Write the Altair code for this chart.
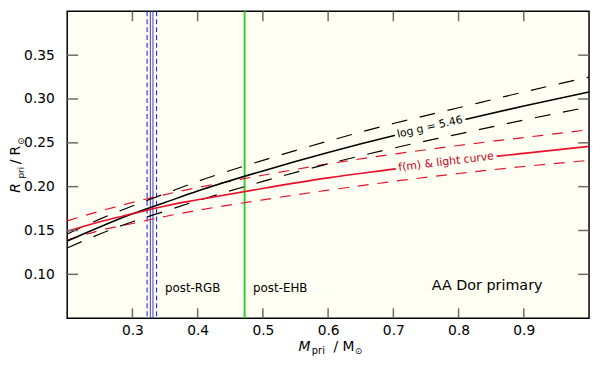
import altair as alt
import pandas as pd

# ---------------- data ----------------
mass = [0.20, 0.25, 0.30, 0.35, 0.40, 0.50, 0.60, 0.70, 0.80, 0.90, 1.00]

logg_mid = [0.138, 0.154, 0.169, 0.182, 0.195, 0.218, 0.239, 0.258, 0.275, 0.292, 0.308]
logg_hi = [0.146, 0.163, 0.178, 0.192, 0.206, 0.230, 0.252, 0.272, 0.290, 0.308, 0.325]
logg_lo = [0.130, 0.146, 0.160, 0.172, 0.184, 0.206, 0.226, 0.244, 0.260, 0.276, 0.291]

fm_mid = [0.149, 0.160, 0.169, 0.178, 0.185, 0.198, 0.210, 0.220, 0.230, 0.238, 0.246]
fm_hi = [0.161, 0.172, 0.182, 0.191, 0.199, 0.213, 0.226, 0.237, 0.247, 0.256, 0.265]
fm_lo = [0.139, 0.150, 0.158, 0.166, 0.173, 0.185, 0.196, 0.206, 0.215, 0.223, 0.230]

rgb_solid = [0.3275, 0.3315]
rgb_dashed = [0.3225, 0.3370]
ehb_mass = 0.472

x_ticks = [0.3, 0.4, 0.5, 0.6, 0.7, 0.8, 0.9]
y_ticks = [0.10, 0.15, 0.20, 0.25, 0.30, 0.35]

# ---------------- build tables ----------------
series = {
    "logg": logg_mid, "logg_hi": logg_hi, "logg_lo": logg_lo,
    "fm": fm_mid, "fm_hi": fm_hi, "fm_lo": fm_lo,
}
rows = []
for name, vals in series.items():
    for m, r in zip(mass, vals):
        rows.append({"M": m, "R": r, "s": name})
df = pd.DataFrame(rows)
xt = pd.DataFrame({"M": x_ticks})
yt = pd.DataFrame({"R": y_ticks})
one = pd.DataFrame({"d": [0]})

W, H = 529, 311
BG = "#fffef2"
FONT = "DejaVu Sans"
RED = "#e8102a"
TRED = "#c8001c"
TICK = "#6a6a6a"

xscale = alt.Scale(domain=[0.2, 1.0], nice=False, zero=False)
yscale = alt.Scale(domain=[0.05, 0.40], nice=False, zero=False)
xaxis = alt.Axis(values=x_ticks, format=".1f", title=None, ticks=False, domain=False,
                 grid=False, labelPadding=6, labelFontSize=14, labelFont=FONT,
                 labelColor="black")
yaxis = alt.Axis(values=y_ticks, format=".2f", title=None, ticks=False, domain=False,
                 grid=False, labelPadding=13, labelFontSize=14, labelFont=FONT,
                 labelColor="black")
X = alt.X("M:Q", scale=xscale, axis=xaxis)
Y = alt.Y("R:Q", scale=yscale, axis=yaxis)

base = alt.Chart(df)
solid = base.transform_filter(alt.FieldOneOfPredicate(field="s", oneOf=["logg", "fm"])).mark_line(
    interpolate="monotone", strokeWidth=1.6, clip=True
).encode(
    x=X, y=Y, detail="s:N",
    color=alt.Color("s:N", scale=alt.Scale(domain=["logg", "fm"], range=["black", RED]), legend=None),
)
black_d = base.transform_filter(alt.FieldOneOfPredicate(field="s", oneOf=["logg_hi", "logg_lo"])).mark_line(
    interpolate="monotone", strokeWidth=1.2, color="black", strokeDash=[16, 13], clip=True
).encode(x=X, y=Y, detail="s:N")
red_d = base.transform_filter(alt.FieldOneOfPredicate(field="s", oneOf=["fm_hi", "fm_lo"])).mark_line(
    interpolate="monotone", strokeWidth=1.2, color=RED, strokeDash=[11, 9], clip=True
).encode(x=X, y=Y, detail="s:N")

# vertical lines
vlayers = []
for m in rgb_dashed:
    vlayers.append(alt.Chart(one).mark_rule(color="#2828c0", strokeWidth=1.1, strokeDash=[5, 3]).encode(x=alt.datum(m)))
for m in rgb_solid:
    vlayers.append(alt.Chart(one).mark_rule(color="#4848d8", strokeWidth=1.1).encode(x=alt.datum(m)))
vlayers.append(alt.Chart(one).mark_rule(color="#33cc33", strokeWidth=2).encode(x=alt.datum(ehb_mass)))

# inward ticks on all four sides
tick_layers = [
    alt.Chart(xt).mark_rule(color=TICK, strokeWidth=1.5).encode(x=X, y=alt.value(H), y2=alt.value(H - 10)),
    alt.Chart(xt).mark_rule(color=TICK, strokeWidth=1.5).encode(x=X, y=alt.value(0), y2=alt.value(10)),
    alt.Chart(yt).mark_rule(color=TICK, strokeWidth=1.5).encode(y=Y, x=alt.value(0), x2=alt.value(11)),
    alt.Chart(yt).mark_rule(color=TICK, strokeWidth=1.5).encode(y=Y, x=alt.value(W), x2=alt.value(W - 11)),
]

# in-plot labels
def label(txt, m, r, size, color="black"):
    return alt.Chart(one).mark_text(text=txt, align="left", baseline="middle", font=FONT,
                                    fontSize=size, color=color).encode(x=alt.datum(m), y=alt.datum(r))

labels = [
    label("post-RGB", 0.350, 0.0838, 12),
    label("post-EHB", 0.485, 0.0838, 12),
    label("AA Dor primary", 0.759, 0.0865, 14.5),
]

def curve_label(txt, m, r, ang, color):
    halo = alt.Chart(one).mark_text(text=txt, align="center", baseline="middle", font=FONT,
                                    fontSize=11, angle=ang, fill=BG, stroke=BG, strokeWidth=7,
                                    strokeJoin="round").encode(x=alt.datum(m), y=alt.datum(r))
    t = alt.Chart(one).mark_text(text=txt, align="center", baseline="middle", font=FONT,
                                 fontSize=11, angle=ang, color=color).encode(x=alt.datum(m), y=alt.datum(r))
    return [halo, t]

curve_labels = curve_label("log g = 5.46", 0.756, 0.2678, 347, "black") + \
    curve_label("f(m) & light curve", 0.781, 0.2279, 353, TRED)

# axis titles built from pieces (italic symbol, subscript)
def piece(txt, px, py, size, italic=False, angle=0):
    kw = dict(text=txt, align="left", baseline="alphabetic", font=FONT, fontSize=size, color="black")
    if italic:
        kw["fontStyle"] = "italic"
    if angle:
        kw["angle"] = angle
    return alt.Chart(one).mark_text(**kw).encode(x=alt.value(px), y=alt.value(py))

title_pieces = [
    piece("M", 234.5, H + 33, 14, italic=True),
    piece("pri", 248.0, H + 36, 10),
    piece("/", 270.0, H + 33, 14),
    piece("M", 279.0, H + 33, 14),
    piece("\u2299", 291.5, H + 36, 9),
    piece("R", -47.5, 184, 14, italic=True, angle=270),
    piece("pri", -44.0, 169.5, 9, angle=270),
    piece("/", -47.5, 155, 14, angle=270),
    piece("R", -47.5, 146, 14, angle=270),
    piece("\u2299", -44.0, 135.5, 9, angle=270),
]

chart = alt.layer(
    *vlayers, red_d, black_d, solid, *curve_labels, *tick_layers, *labels, *title_pieces
).properties(
    width=W, height=H,
    autosize=alt.AutoSizeParams(type="none"),
    padding={"left": 60, "top": 1, "right": 3, "bottom": 38},
    background="white",
).configure_view(
    fill=BG, stroke="black", strokeWidth=1.5
)

chart.save("out.html", embed_options={"renderer": "svg", "actions": False})
